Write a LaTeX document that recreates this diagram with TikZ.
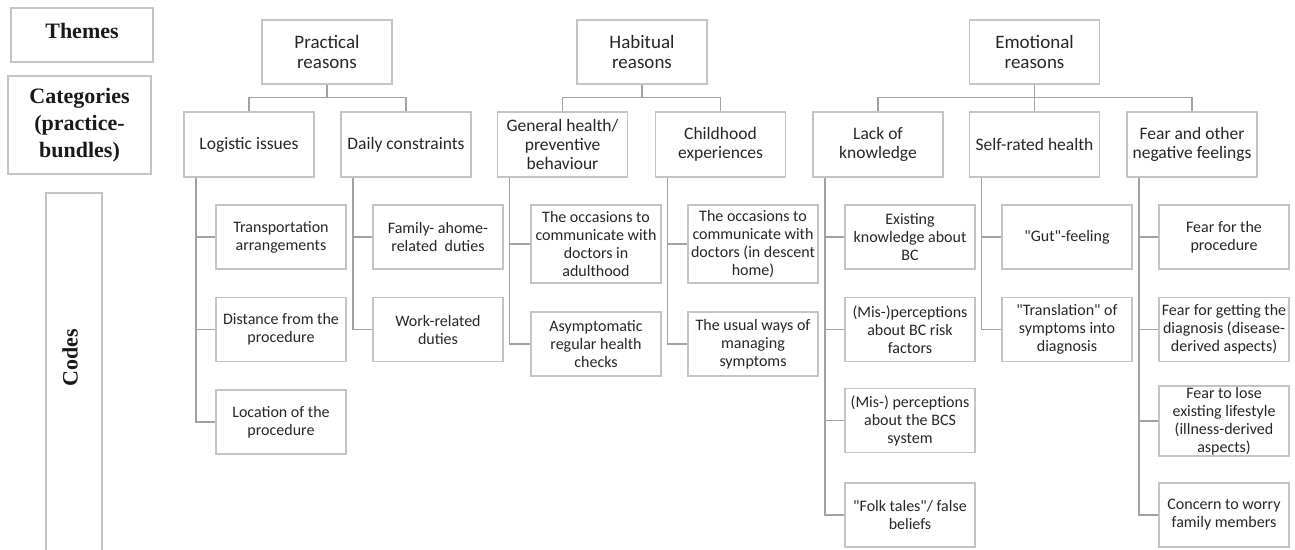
\documentclass[tikz,border=0pt]{standalone}
\usepackage{fontspec}
\setmainfont{Carlito}
\setmonofont{Carlito}
\newfontfamily\legendfont{Liberation Serif}
\newcommand{\dq}{{\ttfamily\symbol{34}}}
\definecolor{boxgray}{HTML}{C4C4C4}
\definecolor{linegray}{HTML}{A2A2A2}
\definecolor{txt}{HTML}{262626}
\tikzset{
  box/.style={draw=boxgray, line width=1.4pt, inner sep=1pt, align=center, text=txt, minimum width=130pt},
  theme/.style={box, minimum height=64pt, font=\fontsize{19}{20}\selectfont},
  cat/.style={box, minimum height=65pt, font=\fontsize{17.5}{19.3}\selectfont},
  code/.style={box, minimum height=64pt, font=\fontsize{16}{18}\selectfont},
  codetall/.style={code, minimum height=78pt},
  legend/.style={draw=boxgray, line width=1.4pt, align=center, inner sep=0pt, font=\legendfont\bfseries\fontsize{22}{27}\selectfont, text=black!90},
  conn/.style={draw=linegray, line width=1.5pt},
}
\begin{document}
\begin{tikzpicture}[x=1pt,y=-1pt]
\useasboundingbox (0,0) rectangle (1295,549);
% legend
\node[legend, minimum width=142pt, minimum height=54pt] (lthemes) at (82,35) {};
\node[font=\legendfont\bfseries\fontsize{22}{27}\selectfont, text=black!90] (lthemestxt) at (82,31) {Themes};
\node[legend, minimum width=143pt, minimum height=98pt] (lcat) at (79.5,125) {Categories\\(practice-\\bundles)};
\draw[draw=boxgray, line width=1.4pt] (46,560) -- (46,193) -- (102,193) -- (102,560);
\node[font=\legendfont\bfseries\fontsize{22}{27}\selectfont, text=black!90, rotate=90] (lcodes) at (70,358) {Codes};
% themes
\node[theme] (prac) at (327,52) {Practical\\reasons};
\node[theme] (habit) at (642,52) {Habitual\\reasons};
\node[theme] (emot) at (1034.5,52) {Emotional\\reasons};
% categories
\node[cat] (logi) at (249,144.5) {Logistic issues};
\node[cat] (daily) at (406,144.5) {Daily constraints};
\node[cat] (gen) at (562.5,144.5) {General health/\\preventive\\behaviour};
\node[cat] (child) at (720.5,144.5) {Childhood\\experiences};
\node[cat] (lack) at (878,144.5) {Lack of\\knowledge};
\node[cat] (self) at (1034.5,144.5) {Self-rated health};
\node[cat] (fear) at (1192,144.5) {Fear and other\\negative feelings};
% codes
\node[code] (l1) at (281,237) {Transportation\\arrangements};
\node[code] (l2) at (281,329.5) {Distance from the\\procedure};
\node[code] (l3) at (281,422) {Location of the\\procedure};
\node[code] (d1) at (438,237) {Family- ahome-\\related\ \ duties};
\node[code] (d2) at (438,329.5) {Work-related\\duties};
\node[codetall] (g1) at (596,244) {The occasions to\\communicate with\\doctors in\\adulthood};
\node[code] (g2) at (596,344) {Asymptomatic\\regular health\\checks};
\node[codetall] (c1) at (753,244) {The occasions to\\communicate with\\doctors (in descent\\home)};
\node[code] (c2) at (753,344) {The usual ways of\\managing\\symptoms};
\node[code] (k1) at (910,237) {Existing\\knowledge about\\BC};
\node[code] (k2) at (910,329.5) {(Mis-)perceptions\\about BC risk\\factors};
\node[code] (k3) at (910,420.5) {(Mis-) perceptions\\about the BCS\\system};
\node[code] (k4) at (910,515) {\dq Folk tales\dq/ false\\beliefs};
\node[code] (s1) at (1067,237) {\dq Gut\dq-feeling};
\node[code] (s2) at (1067,329.5) {\dq Translation\dq\ of\\symptoms into\\diagnosis};
\node[code] (f1) at (1224,237) {Fear for the\\procedure};
\node[code] (f2) at (1224,329.5) {Fear for getting the\\diagnosis (disease-\\derived aspects)};
\node[code] (f3) at (1224,421) {Fear to lose\\existing lifestyle\\(illness-derived\\aspects)};
\node[code] (f4) at (1224,515) {Concern to worry\\family members};
% theme -> category connectors
\draw[conn] (prac.south) -- ++(0,13) -| (logi.north);
\draw[conn] (prac.south) -- ++(0,13) -| (daily.north);
\draw[conn] (habit.south) -- ++(0,13) -| (gen.north);
\draw[conn] (habit.south) -- ++(0,13) -| (child.north);
\draw[conn] (emot.south) -- ++(0,13) -| (lack.north);
\draw[conn] (emot.south) -- (self.north);
\draw[conn] (emot.south) -- ++(0,13) -| (fear.north);
% category -> code connectors
\foreach \p/\c in {logi/l1,logi/l2,logi/l3,daily/d1,daily/d2,gen/g1,gen/g2,child/c1,child/c2,lack/k1,lack/k2,lack/k3,lack/k4,self/s1,self/s2,fear/f1,fear/f2,fear/f3,fear/f4}
  \draw[conn] ([xshift=12.5pt]\p.south west) |- (\c.west);
\end{tikzpicture}
\end{document}
